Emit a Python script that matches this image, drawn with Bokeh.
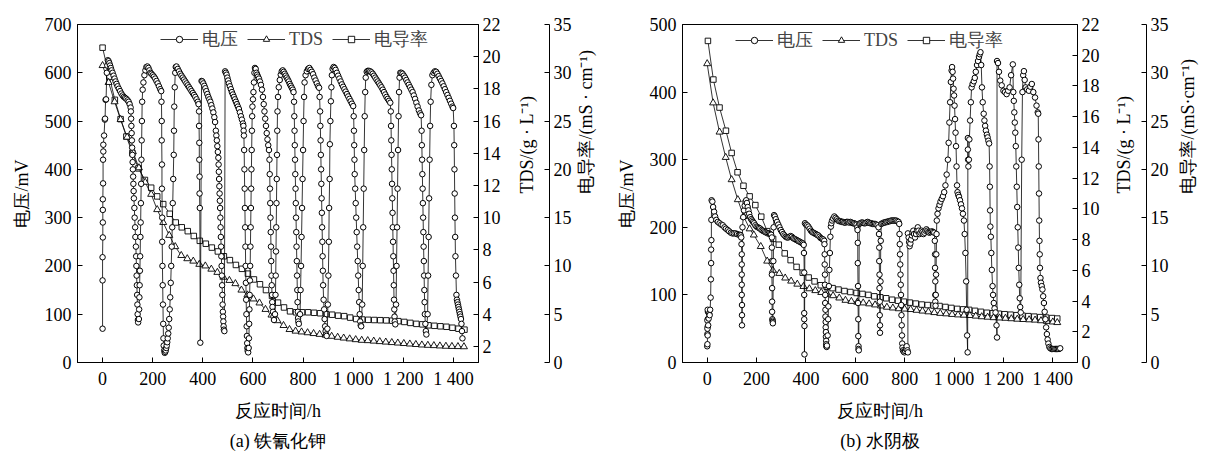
import math
from bokeh.plotting import figure
from bokeh.models import Range1d, LinearAxis, FixedTicker, Title, Legend, LegendItem
from bokeh.layouts import row
from bokeh.embed import file_html
from bokeh.resources import INLINE

FONT = "Liberation Serif"

x_ticks = [0, 200, 400, 600, 800, 1000, 1200, 1400]
x_tick_labels = {1000: "1 000", 1200: "1 200", 1400: "1 400"}
legend_labels = ["电压", "TDS", "电导率"]

# ---------------- panel (a): voltage (t h, mV) ----------------
volt_a = [
(0,70),(0,170),(0,218),(1,259),(1,290),(1,316),(1,338),(2,371),(2,420),(3,437),(3,451),(6,470),(9,503),(10,505),(12,544),(14,545),(17,600),(19,615),(21,626),(24,624),(27,620),(30,615),(33,610),(36,605),(40,600),(44,594),(48,588),(52,582),(56,577),(60,572),(65,567),(70,562),(75,557),(80,553),(85,550),(90,548),(95,546),(100,543),(104,540),(108,535),(112,528),
(113,520),(114,505),(115,490),(116,475),(117,460),(118,445),(119,430),(120,415),(121,400),(122,385),(123,370),(124,355),(125,340),(127,320),(128,300),(130,280),(131,260),(133,240),(134,220),(135,200),(136,180),(137,160),(138,140),(139,120),(140,100),(141,88),(142,83),
(145,90),(146,110),(147,135),(148,160),(149,190),(150,220),(151,260),(152,290),(153,330),(154,370),(155,420),(156,460),(157,500),(158,540),(160,565),(163,580),(167,595),(171,605),(175,612),(179,613),(183,610),(187,605),(191,600),(195,598),(200,595),(205,592),(210,588),(215,583),(220,578),(225,572),(230,566),(234,562),
(235,540),(236,500),(236,460),(237,410),(237,360),(238,300),(238,250),(239,200),(240,160),(241,120),(242,80),(243,50),(244,35),
(246,25),(248,20),(250,22),(252,25),(254,30),(256,35),(258,42),(260,50),(262,60),(264,72),
(266,90),(268,110),(270,135),(272,165),(274,200),(276,240),(278,280),(280,330),(282,380),(284,430),(285,480),(286,530),(288,570),(290,600),(292,612),(295,613),(300,608),(305,603),(310,598),(315,594),(320,590),(325,586),(330,582),(335,578),(340,574),(345,570),(350,566),(355,562),(360,558),(365,554),(370,550),(375,545),(380,540),(383,535),
(385,520),(385,490),(386,455),(386,420),(387,385),(387,350),(388,320),(390,41),
(395,583),(398,582),(402,578),(406,573),(410,568),(414,562),(418,556),(422,550),(426,545),(430,540),(434,533),(438,526),(442,518),(446,508),(449,498),
(452,480),(454,470),(456,460),(458,448),(460,436),(462,424),(463,410),(464,395),(465,380),(466,365),(467,350),(468,335),(469,320),
(470,300),(471,280),(472,260),(473,240),(474,220),(475,200),(476,180),(477,160),(478,140),(479,120),(480,105),(481,95),(482,85),(483,75),(484,68),(486,65),
(489,603),(492,600),(495,596),(498,590),(501,584),(504,578),(508,572),(512,566),(516,560),(520,555),(524,550),(528,545),(532,540),(536,535),(540,530),(544,525),(548,518),(552,510),(556,503),(560,495),(562,490),
(563,480),(564,470),(565,440),(566,400),(567,360),(568,320),(569,280),(570,240),(571,200),(572,165),(573,130),(574,100),(575,75),(576,55),(577,40),(578,30),(579,24),(581,21),
(583,30),(584,50),(585,80),(586,110),(587,140),(588,170),(589,200),(590,240),(591,280),(592,320),(593,360),(594,400),(595,440),(596,480),(597,510),(598,530),(600,545),(602,560),(604,580),(606,600),(608,610),(611,608),(614,600),(617,596),(620,592),
(624,588),(628,582),(632,575),(636,565),(640,550),(643,535),(646,520),(649,505),(652,490),(655,475),(658,462),(661,450),(664,440),
(666,420),(667,390),(668,360),(669,330),(670,300),(671,270),(672,240),(673,210),(674,180),(675,160),(676,140),(677,125),(678,115),(680,105),(682,95),(684,88),
(688,100),(690,140),(691,180),(692,230),(693,280),(694,330),(695,380),(696,430),(697,480),(698,520),(700,550),(703,570),(707,585),(711,596),(715,603),(719,605),
(723,602),(727,598),(731,594),(735,590),(739,586),(743,582),(747,577),(751,573),(755,569),(759,565),(762,560),
(764,540),(765,510),(766,480),(767,450),(768,420),(769,390),(770,360),(771,330),(772,300),(773,270),(774,240),(775,210),(776,180),(777,150),(778,125),(779,105),(780,92),(781,85),(783,80),
(788,100),(790,150),(792,200),(794,260),(796,320),(798,380),(800,440),(802,500),(804,550),(806,580),(810,595),(815,603),(820,608),(825,610),(830,606),(835,602),(840,597),(845,590),(850,584),(855,578),(860,572),(864,569),
(866,550),(868,520),(869,490),(870,460),(871,430),(872,400),(873,370),(874,340),(875,310),(876,280),(877,250),(878,220),(879,190),(880,160),(882,130),(884,110),(886,90),(888,75),(890,65),(892,58),(894,55),
(897,70),(899,120),(901,180),(903,250),(904,320),(906,380),(907,452),(909,500),(911,541),(913,570),(915,595),(918,608),(922,612),(926,610),
(930,606),(935,600),(940,594),(945,588),(950,582),(955,576),(960,571),(965,566),(970,561),(975,556),(980,551),(985,546),(990,541),(995,536),(1000,531),
(1002,510),(1003,480),(1004,450),(1005,420),(1006,390),(1008,360),(1010,330),(1012,300),(1014,270),(1016,240),(1018,210),(1020,180),(1022,150),(1024,125),(1026,100),(1028,85),(1030,77),(1032,75),
(1036,120),(1038,200),(1040,280),(1042,360),(1044,440),(1046,510),(1048,560),(1050,590),(1054,602),(1058,604),(1063,604),(1068,603),(1073,601),(1078,598),(1083,594),(1088,590),(1093,586),(1098,582),(1103,578),(1108,574),(1113,570),(1118,565),(1123,560),(1128,555),(1133,550),(1138,546),(1143,542),(1148,538),
(1150,520),(1151,490),(1152,460),(1153,430),(1154,400),(1155,370),(1156,340),(1157,310),(1158,280),(1159,250),(1160,220),(1161,190),(1162,160),(1163,130),(1164,110),(1165,95),(1166,85),(1168,79),
(1171,120),(1173,200),(1175,280),(1177,360),(1179,440),(1181,510),(1183,560),(1185,590),(1188,600),(1192,600),(1197,598),(1202,594),(1207,590),(1212,585),(1217,580),(1222,575),(1227,570),(1232,565),(1237,560),(1242,553),(1247,546),(1252,538),(1257,530),(1262,522),(1267,516),(1271,512),
(1273,480),(1274,450),(1275,420),(1276,390),(1277,360),(1278,330),(1279,300),(1280,270),(1281,240),(1282,210),(1283,180),(1284,150),(1285,125),(1286,100),(1288,80),(1290,65),(1292,58),
(1297,100),(1299,180),(1301,260),(1303,340),(1305,420),(1307,490),(1309,540),(1312,575),(1316,595),(1321,600),(1326,603),(1331,602),(1336,598),(1341,593),(1346,588),(1351,583),(1356,578),(1361,572),(1366,566),(1371,560),(1376,554),(1381,548),(1386,542),(1391,536),(1396,530),(1399,527),
(1402,490),(1403,450),(1404,400),(1405,350),(1406,300),(1407,260),(1408,220),(1410,180),(1412,140),(1414,130),(1416,125),(1418,120),(1420,115),(1422,110),(1424,105),(1426,100),(1428,95),(1430,90),(1432,80),(1434,65),(1436,50),
]

# panel (a): TDS (g/L) and conductivity (mS/cm)
tds_a = [(0,19.45),(24,18.4),(48,17.2),(72,16.1),(98,15.0),(121,14.1),(145,13.1),(170,12.2),(194,11.45),(218,10.5),(242,9.7),(266,8.9),(290,8.2),(314,7.65),(338,7.45),(362,7.3),(386,7.1),(410,7.0),(434,6.8),(458,6.6),(482,6.3),(506,6.1),(530,5.9),(554,5.5),(578,5.2),(602,4.95),(626,4.7),(650,4.3),(674,3.95),(698,3.6),(722,3.3),(746,3.05),(770,2.95),(794,2.9),(818,2.85),(842,2.8),(866,2.75),(890,2.7),(914,2.63),(938,2.57),(962,2.52),(986,2.47),(1010,2.42),(1034,2.38),(1058,2.36),(1082,2.33),(1106,2.3),(1130,2.27),(1154,2.24),(1178,2.21),(1202,2.18),(1226,2.15),(1250,2.12),(1274,2.09),(1298,2.07),(1322,2.05),(1346,2.03),(1370,2.01),(1394,2.0),(1418,1.99),(1442,1.98)]
cond_a = [(0,32.6),(27,29.6),(49,27.2),(72,25.2),(95,23.4),(119,21.7),(143,20.1),(169,18.9),(194,18.1),(218,17.2),(242,16.4),(268,15.4),(292,14.5),(316,14.0),(340,13.6),(364,13.1),(388,12.6),(412,12.3),(436,11.9),(460,11.5),(484,11.0),(508,10.6),(532,10.1),(556,9.7),(580,9.2),(604,8.6),(628,8.1),(652,7.5),(676,6.9),(700,6.2),(724,5.7),(748,5.3),(772,5.2),(796,5.2),(820,5.2),(844,5.15),(868,5.1),(892,5.0),(916,4.95),(940,4.85),(964,4.8),(988,4.65),(1012,4.5),(1036,4.45),(1060,4.42),(1084,4.4),(1108,4.38),(1132,4.36),(1156,4.33),(1180,4.28),(1204,4.2),(1228,4.1),(1252,4.0),(1276,3.95),(1300,3.85),(1324,3.8),(1348,3.75),(1372,3.7),(1396,3.6),(1420,3.5),(1444,3.4)]

# ---------------- panel (b): voltage ----------------
volt_b = [
(0,24),(1,27),(1,42),(2,53),(2,64),(3,75),(2,78),(1,62),(1,50),(2,40),(4,55),(6,65),(8,72),(10,70),(12,78),(14,96),(15,123),(16,147),(16,167),(17,181),(17,211),(18,240),
(21,238),(24,230),(28,223),(32,216),(37,211),(43,208),(50,206),(57,204),(63,203),(70,200),(76,198),(83,196),(89,194),(96,192),(102,191),(108,191),(115,191),(121,190),(128,189),(133,189),(136,188),
(138,185),(139,175),(140,160),(140,145),(140,130),(140,115),(140,100),(141,85),(141,70),(141,55),
(143,200),(146,215),(149,225),(152,232),(155,238),(158,240),(161,236),(164,230),(167,225),(170,220),(174,215),(178,212),(182,210),(186,208),(190,206),(195,203),(200,201),(205,200),(210,199),(215,198),(220,196),(225,195),(230,194),(235,193),(240,192),(245,191),(250,191),(255,190),(259,189),
(262,185),(262,170),(262,150),(262,130),(263,110),(263,90),(263,75),(264,64),(265,62),(266,60),(266,58),
(268,150),(269,200),(271,218),(274,216),(278,212),(283,208),(288,204),(293,200),(298,196),(303,193),(308,190),(313,188),(318,186),(323,185),(328,185),(333,186),(338,187),(343,186),(348,184),(353,183),(358,182),(363,181),(368,180),(373,179),(378,178),(383,177),(388,176),(391,174),
(392,162),(393,133),(393,100),(393,73),(393,64),(394,54),(394,12),
(396,206),(400,204),(405,203),(410,201),(415,198),(420,195),(425,193),(430,192),(435,191),(440,190),(445,189),(450,188),(455,186),(460,184),(465,183),(470,182),(474,180),
(475,175),(476,160),(476,145),(477,130),(477,115),(478,100),(478,88),(479,78),(479,68),(480,60),(480,52),(481,45),(481,38),(482,32),(482,27),(483,24),(484,23),(485,25),
(488,40),(490,64),(491,83),(493,113),(495,137),(497,162),(499,186),(501,201),(503,206),(506,210),(510,213),(515,216),(520,214),(525,212),(530,210),(535,209),(540,209),(545,208),(550,208),(555,207),(560,207),(565,208),(570,208),(575,207),(580,208),(585,207),(590,206),(595,206),(600,205),(605,204),(608,200),
(609,196),(610,177),(610,147),(611,113),(611,88),(612,64),(612,39),(613,24),(613,20),(614,18),
(616,205),(620,206),(625,207),(630,207),(635,206),(640,206),(645,207),(650,208),(655,207),(660,206),(665,206),(670,205),(675,205),(680,205),(685,204),(690,203),(694,200),
(696,190),(697,170),(697,150),(698,130),(698,110),(699,90),(699,70),(700,55),(700,44),
(702,120),(703,180),(705,205),(710,206),(715,207),(720,207),(725,208),(730,208),(735,209),(740,209),(745,210),(750,210),(755,210),(760,210),(765,210),(770,209),(775,208),
(778,205),(779,190),(780,175),(781,160),(782,145),(783,130),(784,115),(785,100),(786,85),(787,70),(788,55),(789,40),(790,28),(791,22),(793,18),(796,16),(799,15),(802,17),(805,20),(808,24),(811,18),(813,15),
(813,191),(816,185),(818,178),(820,172),(823,176),(826,182),(829,188),(832,192),(835,195),(838,190),(842,185),(846,190),(850,195),(853,200),(856,195),(860,190),(864,192),(868,195),(872,193),(876,190),(880,192),(884,195),(888,197),(892,195),(896,193),(900,192),(905,193),(910,194),(915,193),(920,192),
(922,180),(923,160),(923,140),(924,120),(924,100),(924,90),(925,84),
(926,100),(927,130),(928,160),(929,190),(930,210),(933,220),(937,228),(941,233),(945,238),(950,242),(955,246),(960,252),(965,262),(970,278),(975,300),(978,325),(981,355),(984,385),(987,415),(990,432),(992,437),(994,430),(996,420),(998,405),(1000,395),(1002,380),(1004,360),(1006,340),(1008,320),(1010,290),(1012,262),(1014,252),(1017,248),(1020,245),(1024,240),(1028,234),(1032,228),(1036,220),(1040,210),(1043,190),(1046,162),(1049,120),(1051,78),(1053,40),(1055,15),
(1056,332),(1056,315),(1057,300),(1058,290),(1060,300),(1062,330),(1065,358),(1068,385),(1071,407),(1075,412),(1080,416),(1084,421),(1088,430),(1093,440),(1097,446),(1101,452),(1104,456),(1107,459),(1110,440),(1113,407),(1116,385),(1120,368),(1123,358),(1126,350),(1129,343),(1133,337),(1136,333),(1139,328),(1142,324),
(1144,290),(1145,260),(1146,225),(1147,201),(1149,186),(1151,162),(1153,137),(1156,113),(1158,100),(1161,88),(1164,80),(1168,74),(1172,55),(1174,37),
(1174,446),(1178,443),(1182,430),(1187,417),(1193,410),(1200,402),(1206,400),(1213,397),(1219,402),(1225,407),(1231,425),(1238,441),
(1240,400),(1242,387),(1244,370),(1246,355),(1248,340),(1250,320),(1252,290),(1254,260),(1256,230),(1258,200),(1260,170),(1262,140),(1264,115),(1266,95),(1268,82),(1270,74),
(1274,300),(1277,400),(1280,425),(1283,431),(1286,418),(1290,407),(1296,404),(1303,402),(1309,408),(1315,412),(1321,400),(1328,392),(1334,380),(1339,370),(1341,368),
(1342,330),(1343,290),(1344,250),(1345,210),(1346,180),(1347,160),(1348,140),(1350,125),(1352,118),(1355,113),(1358,108),(1361,98),(1364,88),(1367,75),(1370,64),(1373,52),(1376,42),(1379,34),(1382,28),(1386,23),(1390,21),(1395,20),(1400,20),(1405,20),(1410,20),(1415,20),(1420,20),(1425,20),(1430,21),
]

tds_b = [(0,19.45),(24,16.9),(50,15.0),(75,13.35),(99,11.9),(124,10.6),(148,9.5),(172,8.7),(189,8.3),(217,7.55),(243,6.6),(266,6.0),(292,5.8),(316,5.5),(340,5.3),(365,5.1),(390,4.95),(414,4.8),(438,4.68),(462,4.56),(486,4.45),(510,4.35),(535,4.2),(560,4.05),(584,3.98),(608,3.93),(632,3.88),(656,3.82),(680,3.75),(704,3.68),(728,3.6),(752,3.55),(776,3.5),(800,3.48),(824,3.45),(848,3.4),(872,3.35),(896,3.3),(920,3.25),(944,3.2),(968,3.17),(992,3.13),(1016,3.1),(1040,3.08),(1064,3.06),(1088,3.02),(1112,2.98),(1136,2.95),(1160,2.92),(1184,2.9),(1208,2.88),(1232,2.85),(1256,2.82),(1280,2.8),(1304,2.78),(1328,2.76),(1352,2.72),(1376,2.68),(1400,2.64),(1418,2.6)]
cond_b = [(3,33.3),(25,29.3),(50,26.4),(76,24.0),(99,21.7),(123,19.7),(147,18.3),(172,17.2),(195,16.3),(219,15.1),(243,13.6),(267,12.8),(290,12.2),(314,11.3),(338,10.6),(362,9.9),(387,9.3),(411,8.8),(435,8.4),(460,8.0),(484,7.85),(508,7.7),(532,7.55),(556,7.4),(580,7.3),(605,7.2),(629,7.1),(653,7.0),(677,6.85),(701,6.75),(725,6.65),(749,6.5),(773,6.4),(797,6.3),(821,6.2),(845,6.1),(869,6.0),(893,5.95),(917,5.9),(941,5.85),(965,5.75),(989,5.65),(1013,5.55),(1037,5.5),(1061,5.45),(1085,5.35),(1109,5.25),(1133,5.15),(1157,5.1),(1181,5.05),(1205,5.0),(1229,4.95),(1253,4.9),(1277,4.85),(1301,4.8),(1325,4.75),(1349,4.7),(1373,4.65),(1397,4.6),(1418,4.55)]


def unzip(pairs):
    return [a for a, _ in pairs], [b for _, b in pairs]


def style_axis(ax, tick_in=5):
    ax.major_tick_in = tick_in
    ax.major_tick_out = 0
    ax.minor_tick_line_color = None
    ax.axis_line_color = "black"
    ax.major_tick_line_color = "black"
    ax.major_label_text_font = FONT
    ax.major_label_text_font_size = "18px"
    ax.major_label_text_color = "black"
    ax.axis_label_text_font = FONT
    ax.axis_label_text_font_size = "18px"
    ax.axis_label_text_font_style = "normal"
    ax.axis_label_text_color = "black"


def set_orient(ax):
    if "axis_label_orientation" in ax.properties():
        ax.axis_label_orientation = math.pi / 2


def panel(volt, tds, cond, vmax, vstep, tds_lo, tds_ticks, cond_label, title,
          width, mb_left, mb_right, frame_h, legend_x, tds_standoff, cond_standoff):
    p = figure(width=width, height=455, output_backend="svg", toolbar_location=None,
               x_range=Range1d(-100, 1500), y_range=Range1d(0, vmax),
               min_border_left=mb_left, min_border_right=mb_right,
               min_border_top=24, min_border_bottom=455 - 24 - frame_h)
    p.extra_y_ranges = {"tds": Range1d(tds_lo, 22), "cond": Range1d(0, 35)}
    p.xgrid.visible = False
    p.ygrid.visible = False
    p.outline_line_color = "black"
    p.outline_line_width = 1
    p.background_fill_color = "white"
    p.border_fill_color = "white"

    ct, cv = unzip(cond)
    tt, tv = unzip(tds)
    vt, vv = unzip(volt)
    cl = p.line(ct, cv, y_range_name="cond", line_color="black", line_width=0.8)
    cs = p.scatter(ct, cv, y_range_name="cond", marker="square", size=5.5,
                   fill_color="white", line_color="black", line_width=0.9)
    tl = p.line(tt, tv, y_range_name="tds", line_color="black", line_width=0.8)
    ts = p.scatter(tt, tv, y_range_name="tds", marker="triangle", size=7,
                   fill_color="white", line_color="black", line_width=0.9)
    vl = p.line(vt, vv, line_color="black", line_width=0.8)
    vs = p.scatter(vt, vv, marker="circle", size=5.5,
                   fill_color="white", line_color="black", line_width=1.0)

    p.xaxis.ticker = FixedTicker(ticks=x_ticks)
    p.xaxis.major_label_overrides = x_tick_labels
    p.xaxis.axis_label = "反应时间/h"
    p.yaxis.ticker = FixedTicker(ticks=list(range(0, vmax + 1, vstep)))
    p.yaxis.axis_label = "电压/mV"
    for ax in p.xaxis + p.yaxis:
        style_axis(ax)
    p.xaxis.major_label_standoff = 6
    p.xaxis.axis_label_standoff = 9
    p.yaxis.major_label_standoff = 6
    p.yaxis.axis_label_standoff = 10

    ax_t = LinearAxis(y_range_name="tds", ticker=FixedTicker(ticks=tds_ticks),
                      axis_label="TDS/(g · L⁻¹)")
    style_axis(ax_t)
    ax_t.major_label_standoff = 4
    ax_t.axis_label_standoff = tds_standoff
    set_orient(ax_t)
    p.add_layout(ax_t, "right")

    ax_c = LinearAxis(y_range_name="cond", ticker=FixedTicker(ticks=list(range(0, 36, 5))),
                      axis_label=cond_label)
    style_axis(ax_c)
    ax_c.major_label_standoff = 4
    ax_c.axis_label_standoff = cond_standoff
    set_orient(ax_c)
    p.add_layout(ax_c, "right")

    items = [LegendItem(label=legend_labels[0], renderers=[vl, vs]),
             LegendItem(label=legend_labels[1], renderers=[tl, ts]),
             LegendItem(label=legend_labels[2], renderers=[cl, cs])]
    leg = Legend(items=items, orientation="horizontal",
                 location=(legend_x, frame_h - 31),
                 border_line_alpha=0, background_fill_alpha=0,
                 label_text_font=FONT, label_text_font_size="18px",
                 glyph_width=38, glyph_height=16, spacing=9, padding=2, margin=0,
                 label_standoff=4)
    p.add_layout(leg)

    t = Title(text=title, align="center", text_font=FONT, text_font_size="18px",
              text_font_style="normal", text_color="black")
    p.add_layout(t, "below")
    return p


pa = panel(volt_a, tds_a, cond_a, 700, 100, 1, list(range(2, 23, 2)),
           "电导率/(mS · cm⁻¹)", "(a) 铁氰化钾", 608, 77, 115, 340, 81, 23, 11)
pb = panel(volt_b, tds_b, cond_b, 500, 100, 0, list(range(0, 23, 2)),
           "电导率/(mS·cm⁻¹)", "(b) 水阴极", 602, 74, 115, 339, 51, 21, 16)

layout = row(pa, pb)
open("out.html", "w").write(file_html(layout, INLINE))
